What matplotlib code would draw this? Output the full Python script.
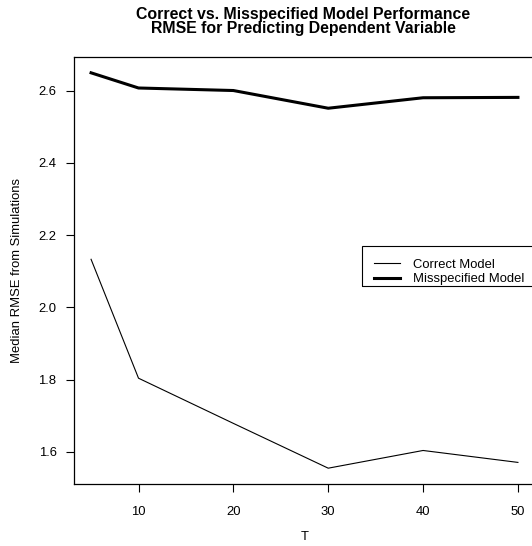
import matplotlib
matplotlib.use("Agg")
import matplotlib.pyplot as plt
from matplotlib.legend_handler import HandlerLine2D
from matplotlib.patches import Rectangle

# simulation results (median RMSE) by T
T = [5, 10, 20, 30, 40, 50]
correct_rmse = [2.133, 1.804, 1.679, 1.555, 1.604, 1.571]
misspec_rmse = [2.649, 2.607, 2.600, 2.551, 2.580, 2.581]

x_ticks = [10, 20, 30, 40, 50]
y_ticks = [1.6, 1.8, 2.0, 2.2, 2.4, 2.6]

plt.rcParams['font.family'] = ['Liberation Sans', 'DejaVu Sans']

W, H = 532, 546
fs = 9.4
fig = plt.figure(figsize=(W / 100, H / 100), dpi=100)
# plot region runs past the right edge of the image, as in the original
ax = fig.add_axes([74 / W, 62 / H, (535 - 74) / W, (484 - 57) / H])

l1, = ax.plot(T, correct_rmse, color="black", lw=0.8, label="Correct Model")
l2, = ax.plot(T, misspec_rmse, color="black", lw=2.2, label="Misspecified Model")

ax.margins(x=0.04, y=0.04)
ax.set_xticks(x_ticks)
ax.set_yticks(y_ticks)
ax.set_yticklabels([f"{v:.1f}" for v in y_ticks])
ax.tick_params(direction="out", length=6, width=0.8, labelsize=fs, colors="black")
ax.tick_params(axis="x", pad=9.5)
ax.tick_params(axis="y", pad=6.5)
for s in ax.spines.values():
    s.set_linewidth(0.9)

ax.set_xlabel("T", fontsize=fs, labelpad=10)
ax.set_ylabel("Median RMSE from Simulations", fontsize=fs, labelpad=11)

fig.text(303 / W, 1 - 15 / H, "Correct vs. Misspecified Model Performance",
         ha="center", va="center", fontsize=11.4, fontweight="bold")
fig.text(303 / W, 1 - 29 / H, "RMSE for Predicting Dependent Variable",
         ha="center", va="center", fontsize=11.4, fontweight="bold")

# legend entries without frame, box drawn separately (R style padding)
hmap = {l1: HandlerLine2D(xpad=0.45), l2: HandlerLine2D(xpad=0.45)}
leg = ax.legend(handles=[l1, l2], handler_map=hmap, loc="upper left",
                bbox_to_anchor=(362 / W, 1 - 253 / H),
                bbox_transform=fig.transFigure, fontsize=fs, frameon=False,
                borderpad=0.45, labelspacing=0.15,
                handlelength=2.45, handletextpad=1.0, borderaxespad=0)
fig.patches.append(Rectangle((362 / W, 1 - 286 / H), 180 / W, 40 / H,
                             transform=fig.transFigure, fill=False,
                             edgecolor="black", lw=0.8))

fig.savefig("out.png", dpi=100)
